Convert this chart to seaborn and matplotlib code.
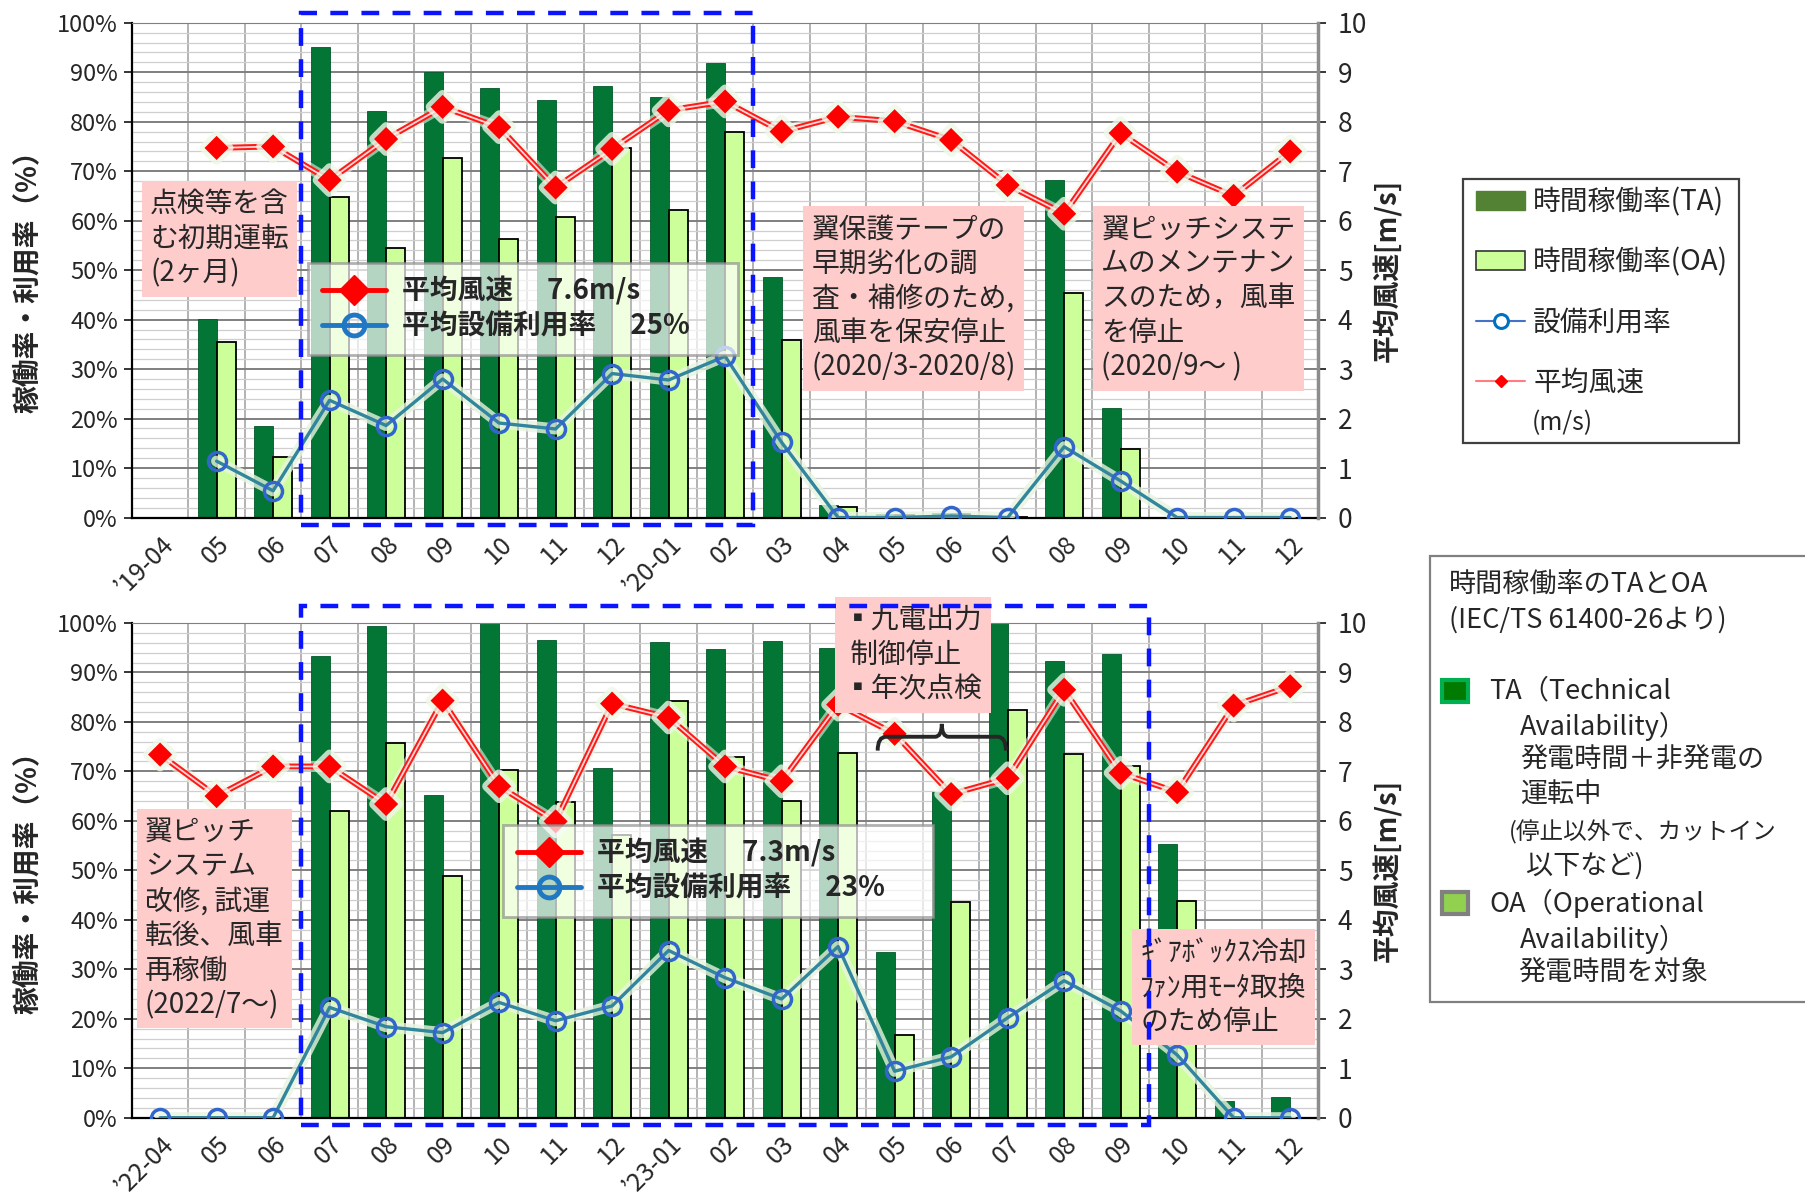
import numpy as np
import pandas as pd
import matplotlib
matplotlib.use("Agg")
import matplotlib.pyplot as plt
import matplotlib.patheffects as pe
from matplotlib.lines import Line2D
from matplotlib.patches import Patch, Rectangle, PathPatch
from matplotlib.path import Path
import seaborn as sns

nan = np.nan

# upper panel: 2019-04 .. 2020-12
top_months = ["’19-04", "05", "06", "07", "08", "09", "10", "11", "12", "’20-01", "02",
              "03", "04", "05", "06", "07", "08", "09", "10", "11", "12"]
top_ta = [0, 40.1, 18.5, 95.1, 82.2, 90.1, 86.8, 84.4, 87.3, 85.0, 91.8,
          48.6, 2.5, 0.8, 1.0, 0.3, 68.3, 22.1, 0, 0, 0]
top_oa = [0, 35.5, 12.3, 64.8, 54.4, 72.7, 56.3, 60.8, 74.7, 62.1, 77.9,
          35.9, 2.2, 0.6, 0.8, 0.2, 45.3, 13.8, 0, 0, 0]
top_util = [nan, 11.4, 5.4, 23.7, 18.6, 28.0, 19.1, 17.9, 29.1, 27.8, 32.6,
            15.2, 0, 0, 0.3, 0, 14.3, 7.4, 0, 0, 0]
top_wind = [nan, 7.47, 7.50, 6.82, 7.65, 8.30, 7.89, 6.67, 7.45, 8.23, 8.41,
            7.80, 8.10, 8.01, 7.63, 6.72, 6.14, 7.77, 6.99, 6.50, 7.40]

# lower panel: 2022-04 .. 2023-12
bot_months = ["’22-04", "05", "06", "07", "08", "09", "10", "11", "12", "’23-01", "02",
              "03", "04", "05", "06", "07", "08", "09", "10", "11", "12"]
bot_ta = [0, 0, 0, 93.3, 99.4, 65.3, 100, 96.5, 70.7, 96.1, 94.7,
          96.3, 94.9, 33.4, 65.8, 100, 92.4, 93.7, 55.3, 3.3, 4.1]
bot_oa = [0, 0, 0, 61.9, 75.8, 48.9, 70.3, 63.8, 57.1, 84.3, 73.0,
          64.0, 73.7, 16.7, 43.6, 82.5, 73.5, 71.1, 43.8, 0, 0]
bot_util = [0, 0, 0, 22.3, 18.4, 17.2, 23.3, 19.6, 22.6, 33.8, 28.3,
            24.0, 34.6, 9.4, 12.3, 20.2, 27.7, 21.6, 12.7, 0, 0]
bot_wind = [7.34, 6.50, 7.10, 7.10, 6.34, 8.43, 6.70, 5.99, 8.37, 8.09, 7.10,
            6.80, 8.35, 7.76, 6.54, 6.86, 8.65, 6.97, 6.58, 8.33, 8.72]

C_TA = "#037535"
C_OA = "#ccff99"
C_UTIL = "#31859c"
C_UTIL_MK = "#3366cc"
C_WIND = "#ff1a1a"
PINK = "#ffcccc"

sns.set_style("white")
plt.rcParams["font.family"] = ["Noto Sans CJK JP", "DejaVu Sans"]

fig = plt.figure(figsize=(18.06, 11.98), dpi=100)
ax_top = fig.add_axes([0.073, 0.568, 0.657, 0.413])
ax_bot = fig.add_axes([0.073, 0.067, 0.657, 0.413])

glow = [pe.Stroke(linewidth=8, foreground="#e8f4e0", alpha=0.8), pe.Normal()]


def draw_panel(ax, months, ta, oa, util, wind):
    n = len(months)
    idx = np.arange(n)
    bars = pd.DataFrame({"idx": np.tile(idx, 2), "rate": ta + oa,
                         "kind": ["TA"] * n + ["OA"] * n})
    sns.barplot(data=bars, x="idx", y="rate", hue="kind", hue_order=["TA", "OA"],
                palette=[C_TA, C_OA], width=0.67, saturation=1, legend=False,
                ax=ax, zorder=2)
    for i, p in enumerate(ax.patches):
        if i < n:
            p.set_edgecolor("#02592a")
            p.set_linewidth(0.6)
        else:
            p.set_edgecolor("black")
            p.set_linewidth(1.3)

    # utilisation: line with soft glow, hollow circle markers on top
    sns.lineplot(x=idx, y=util, ax=ax, color=C_UTIL, lw=2.4, path_effects=glow, zorder=5)
    sns.lineplot(x=idx, y=util, ax=ax, linestyle="", marker="o", markersize=13,
                 markerfacecolor="none", markeredgecolor=C_UTIL_MK, markeredgewidth=2.5,
                 zorder=6)

    ax2 = ax.twinx()
    sns.lineplot(x=idx, y=wind, ax=ax2, color=C_WIND, lw=4,
                 path_effects=[pe.Stroke(linewidth=8, foreground="#eef7e8", alpha=0.6),
                               pe.Stroke(linewidth=4.2, foreground=C_WIND),
                               pe.Stroke(linewidth=1.3, foreground="#ffd6d6")], zorder=3)
    sns.scatterplot(x=idx, y=wind, ax=ax2, marker="D", s=150, color="red",
                    edgecolor="red", linewidth=0, zorder=4,
                    path_effects=[pe.Stroke(linewidth=7, foreground="#eef7e8", alpha=0.8),
                                  pe.Normal()])

    ax.set_xlim(-0.5, n - 0.5)
    ax.set_ylim(0, 100)
    ax2.set_ylim(0, 10)
    ax.set_xlabel("")
    ax2.set_ylabel("")

    ax.set_yticks(np.arange(0, 101, 10))
    ax.set_yticks(np.arange(0, 101, 2), minor=True)
    ax.set_yticklabels([f"{v}%" for v in range(0, 101, 10)], fontsize=17)
    ax2.set_yticks(np.arange(0, 11, 1))
    ax2.set_yticklabels([str(v) for v in range(0, 11)], fontsize=19)
    ax.set_xticks(idx)
    ax.set_xticks(np.arange(-0.5, n, 1), minor=True)
    ax.set_xticklabels(months, rotation=45, ha="right", rotation_mode="anchor", fontsize=18)
    ax.tick_params(axis="x", which="major", length=0, pad=10)
    ax.tick_params(axis="x", which="minor", length=7, width=1.3, direction="out", color="black")
    ax.tick_params(axis="y", which="major", length=6, width=1.3, direction="out", left=True, pad=4)
    ax.tick_params(axis="y", which="minor", length=0)
    ax2.tick_params(axis="y", length=6, width=1.3, direction="out", right=True, pad=8)

    ax.set_axisbelow(True)
    ax.grid(True, axis="y", which="major", color="#7f7f7f", lw=1.4)
    ax.grid(True, axis="y", which="minor", color="#cfcfcf", lw=0.9)
    ax.grid(True, axis="x", which="minor", color="#a6a6a6", lw=1.2)
    for s in ["left", "bottom"]:
        ax.spines[s].set_color("black")
        ax.spines[s].set_linewidth(1.6)
    ax.spines["top"].set_color("#7f7f7f")
    ax.spines["right"].set_visible(False)
    ax2.spines["right"].set_color("#8c8c8c")
    ax2.spines["right"].set_linewidth(2.5)
    for s in ["left", "bottom", "top"]:
        ax2.spines[s].set_visible(False)

    ax.set_ylabel("稼働率・利用率（%）", fontsize=20, fontweight="bold")
    ax.yaxis.set_label_coords(-0.076, 0.49)
    ax2.set_ylabel("平均風速[m/s]", fontsize=20, fontweight="bold")
    ax2.yaxis.set_label_coords(1.046, 0.5)
    return ax2


def pink_note(ax2, ax, x, y, s, **kw):
    ax2.text(x, y, s, transform=ax.transAxes, ha="left", va="top", fontsize=20,
             linespacing=1.2, zorder=8,
             bbox=dict(boxstyle="square,pad=0.3", fc=PINK, ec="none"), **kw)


def inset_legend(ax2, x, y, wind_txt, util_txt):
    h = [Line2D([], [], color="red", lw=3.5, marker="D", ms=15, mfc="red", mec="red"),
         Line2D([], [], color="#1f78c1", lw=3.5, marker="o", ms=15, mfc="none",
                mec="#1f78c1", mew=3.5)]
    leg = ax2.legend(h, [wind_txt, util_txt], loc="upper left", bbox_to_anchor=(x, y),
                     prop={"weight": "bold", "size": 20}, frameon=True, fancybox=False,
                     edgecolor="#909090", facecolor="white", framealpha=0.7,
                     handlelength=2.3, labelspacing=0.25, borderpad=0.5,
                     borderaxespad=0, handletextpad=0.6)
    leg.get_frame().set_linewidth(2)
    leg.set_zorder(9)


ax2_top = draw_panel(ax_top, top_months, top_ta, top_oa, top_util, top_wind)
ax2_bot = draw_panel(ax_bot, bot_months, bot_ta, bot_oa, bot_util, bot_wind)

# dashed blue frames
ax2_top.add_patch(Rectangle((2.5, -1.5), 8, 103.5, transform=ax_top.transData, fill=False,
                            ec="#0a14ff", lw=3.2, ls=(0, (4, 3)), clip_on=False, zorder=10))
ax2_bot.add_patch(Rectangle((2.5, -1.5), 15, 105, transform=ax_bot.transData, fill=False,
                            ec="#0a14ff", lw=3.2, ls=(0, (4, 3)), clip_on=False, zorder=10))

# notes
pink_note(ax2_top, ax_top, 0.0155, 0.664, "点検等を含\nむ初期運転\n(2ヶ月)")
pink_note(ax2_top, ax_top, 0.573, 0.613,
          "翼保護テープの\n早期劣化の調\n査・補修のため,\n風車を保安停止\n(2020/3-2020/8)")
pink_note(ax2_top, ax_top, 0.817, 0.613,
          "翼ピッチシステ\nムのメンテナン\nスのため，風車\nを停止\n(2020/9～ )")
pink_note(ax2_bot, ax_bot, 0.011, 0.608,
          "翼ピッチ\nシステム\n改修, 試運\n転後、風車\n再稼働\n(2022/7～)")
pink_note(ax2_bot, ax_bot, 0.600, 1.035, "▪九電出力\n 制御停止\n▪年次点検")
pink_note(ax2_bot, ax_bot, 0.850, 0.364, "ｷﾞｱﾎﾞｯｸｽ冷却\nﾌｧﾝ用ﾓｰﾀ取換\nのため停止")

inset_legend(ax2_top, 0.1485, 0.515, "平均風速　 7.6m/s", "平均設備利用率　 25%　 ")
inset_legend(ax2_bot, 0.3126, 0.592, "平均風速　 7.3m/s", "平均設備利用率　 23%　 ")

# brace over 05-07 in lower panel
x0, x1, yb = 12.7, 14.97, 77.0
xm = (x0 + x1) / 2
verts = [(x0, yb - 2.8), (x0, yb), (x0 + 0.15, yb), (xm - 0.12, yb), (xm, yb), (xm, yb + 2.6),
         (xm, yb + 2.6), (xm, yb), (xm + 0.12, yb), (x1 - 0.15, yb), (x1, yb), (x1, yb - 2.8)]
codes = [Path.MOVETO, Path.CURVE3, Path.CURVE3, Path.LINETO, Path.CURVE3, Path.CURVE3,
         Path.MOVETO, Path.CURVE3, Path.CURVE3, Path.LINETO, Path.CURVE3, Path.CURVE3]
ax2_bot.add_patch(PathPatch(Path(verts, codes), transform=ax_bot.transData, fill=False,
                            ec="#262626", lw=2.8, zorder=7))

# series legend (upper right), frame drawn separately
fig.patches.append(Rectangle((0.810, 0.630), 0.153, 0.221, transform=fig.transFigure,
                             fill=True, fc="white", ec="#404040", lw=1.6))
handles = [Patch(fc="#548235", ec="#548235"),
           Patch(fc=C_OA, ec="#333333", lw=1.2),
           Line2D([], [], color="#4472c4", lw=1.5, marker="o", ms=10, mfc="white",
                  mec="#0070c0", mew=2.2),
           Line2D([], [], color="#ff7c80", lw=1.5, marker="D", ms=6, mfc="red", mec="red")]
labels = ["時間稼働率(TA)", "時間稼働率(OA)", "設備利用率", "平均風速"]
leg = fig.legend(handles, labels, loc="upper left", bbox_to_anchor=(0.8175, 0.8435),
                 fontsize=20, frameon=False, handlelength=1.75, labelspacing=1.08,
                 borderpad=0, borderaxespad=0, handletextpad=0.3)
fig.text(0.848, 0.647, "(m/s)", ha="left", va="center", fontsize=18)

# TA / OA explanation box
fig.patches.append(Rectangle((0.7918, 0.164), 0.215, 0.372, transform=fig.transFigure,
                             fill=True, fc="white", ec="#808080", lw=1.6))
info_lines = [
    (0.8023, 0.5117, "時間稼働率のTAとOA", 19.5),
    (0.8023, 0.4826, "(IEC/TS 61400-26より)", 19.5),
    (0.8245, 0.4232, "TA（Technical", 19.5),
    (0.8418, 0.3940, "Availability）", 19.5),
    (0.8418, 0.3656, "発電時間＋非発電の", 19.5),
    (0.8418, 0.3364, "運転中", 19.5),
    (0.8355, 0.3055, "(停止以外で、カットイン", 17),
    (0.8450, 0.2771, "以下など)", 19.5),
    (0.8245, 0.2462, "OA（Operational", 19.5),
    (0.8418, 0.2162, "Availability）", 19.5),
    (0.8405, 0.1878, "発電時間を対象", 19.5),
]
for x, y, s, fs in info_lines:
    fig.text(x, y, s, ha="left", va="center", fontsize=fs)
fig.patches.append(Rectangle((0.7985, 0.4137), 0.0145, 0.019, transform=fig.transFigure,
                             fc="#007a00", ec="#00b050", lw=3))
fig.patches.append(Rectangle((0.7985, 0.2367), 0.0145, 0.019, transform=fig.transFigure,
                             fc="#92d050", ec="#808080", lw=3))

fig.savefig("out.png", dpi=100)
